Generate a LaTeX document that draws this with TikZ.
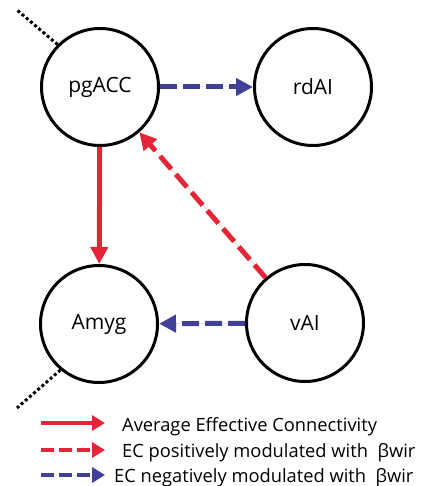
\documentclass[tikz,border=0pt]{standalone}
\usepackage{fontspec}
\setmainfont{Open Sans}
\usetikzlibrary{arrows.meta,positioning}
\definecolor{ecred}{RGB}{228,37,56}
\definecolor{ecblue}{RGB}{64,64,150}

\begin{document}
\begin{tikzpicture}[
      x=1pt,y=-1pt,
      mycircle/.style={
         circle,
         draw=black,
         line width=3pt,
         inner sep=0pt,
         minimum size=117pt,
         font=\fontsize{21}{24}\selectfont},
      mytext/.style={
         anchor=base west,
         inner sep=0pt,
         font=\fontsize{18.3}{22}\selectfont},
      myarrow/.style={-{Triangle[length=17pt,width=17pt]},line width=5pt},
      legarrow/.style={-{Triangle[length=13pt,width=15pt]},line width=4pt},
      redsolid/.style={draw=ecred,fill=ecred},
      reddash/.style={draw=ecred,fill=ecred,dash pattern=on 17pt off 7pt},
      bluedash/.style={draw=ecblue,fill=ecblue,dash pattern=on 17pt off 6pt},
      legdash/.style={dash pattern=on 13pt off 5pt},
      mydots/.style={line width=3pt,dash pattern=on 3pt off 2.5pt}
      ]
      \useasboundingbox (0,0) rectangle (422,486);
      \node[mycircle] (pg) at (100,87) {pgACC};
      \node[mycircle] (rd) at (313,87) {rdAI};
      \node[mycircle] (am) at (99,324) {Amyg};
      \node[mycircle] (va) at (305,323) {vAI};
      \coordinate (d1) at (17,10);
      \coordinate (d2) at (17,408);
      \draw[mydots] (pg.135) -- (d1);
      \draw[mydots] (am.230) -- (d2);
    \foreach \i/\j/\s in {
      pg/rd/bluedash,
      pg/am/redsolid,
      va/pg/reddash,
      va/am/bluedash}
       \draw [myarrow,\s] (\i) -- (\j);
      % legend
      \coordinate (l1a) at (41,423);
      \coordinate (l1b) at (105,423);
      \coordinate (l2a) at (41,450);
      \coordinate (l2b) at (105,450);
      \coordinate (l3a) at (41,475);
      \coordinate (l3b) at (105,475);
      \draw[legarrow,redsolid] (l1a) -- (l1b);
      \draw[legarrow,redsolid,legdash] (l2a) -- (l2b);
      \draw[legarrow,bluedash,legdash] (l3a) -- (l3b);
      \node[mytext] (t1) at (122,431) {Average Effective Connectivity};
      \node[mytext] (t2) at (122,457) {EC positively modulated with \ βwir};
      \node[mytext] (t3) at (114,482) {EC negatively modulated with \ βwir};
\end{tikzpicture}
\end{document}
